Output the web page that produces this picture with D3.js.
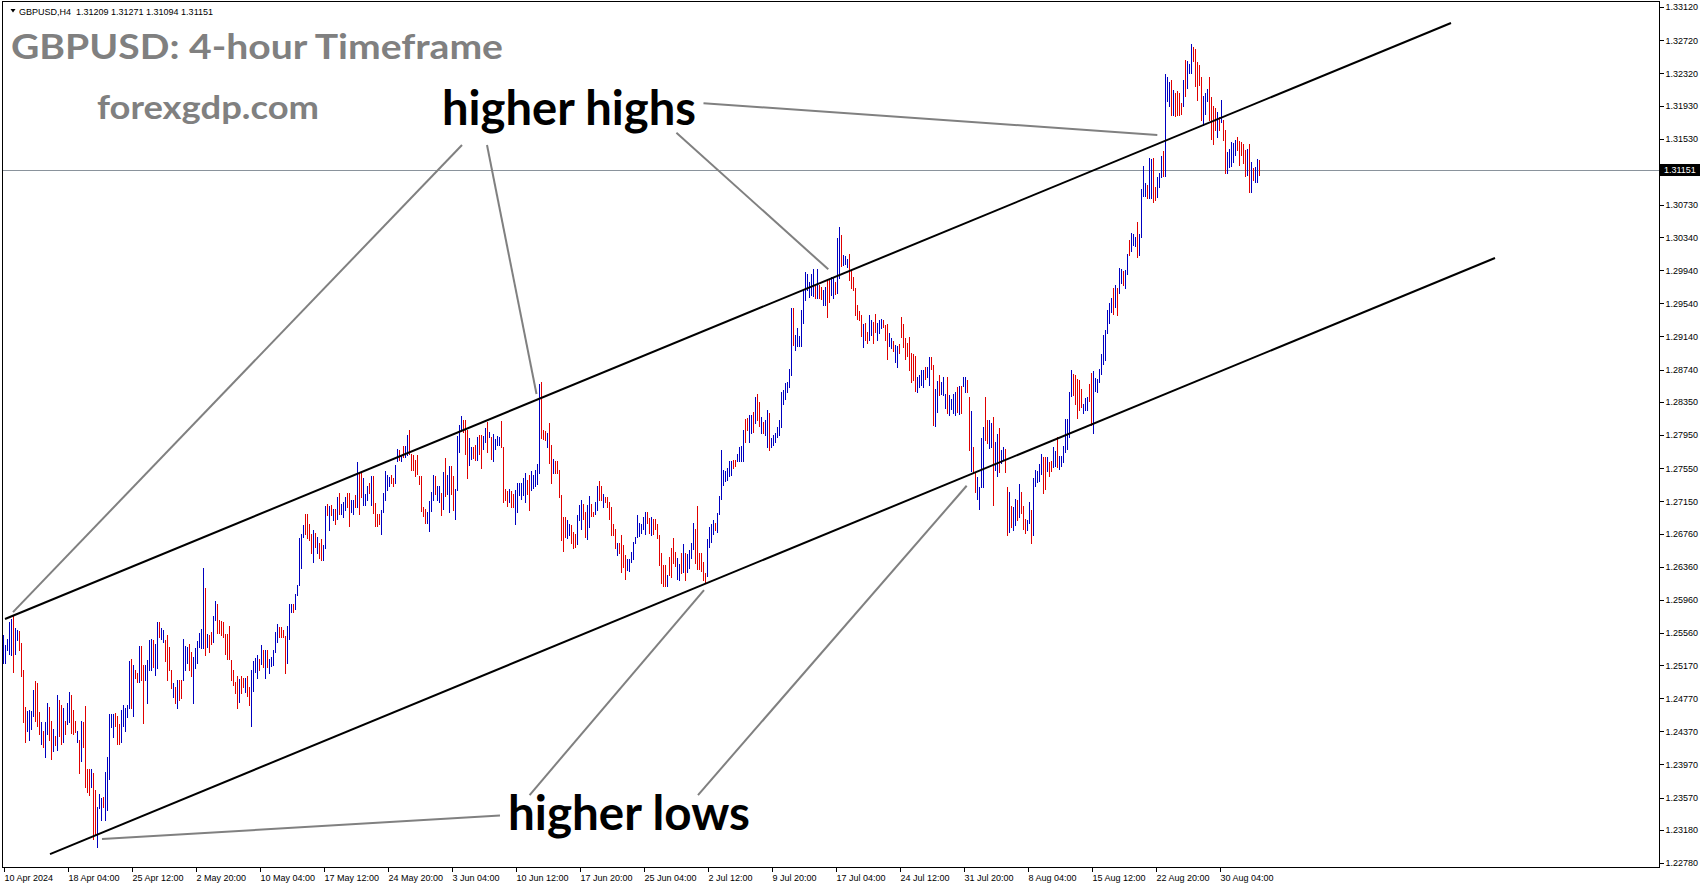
<!DOCTYPE html>
<html><head><meta charset="utf-8">
<script src="https://cdn.jsdelivr.net/npm/d3@7"></script>
<style>html,body{margin:0;padding:0;background:#fff;overflow:hidden}</style>
</head><body>
<svg id="chart" width="1705" height="888"></svg>
<script>
// ---------- DATA ----------
const symbolInfo = "GBPUSD,H4  1.31209 1.31271 1.31094 1.31151";
const titleText = "GBPUSD: 4-hour Timeframe";
const siteText = "forexgdp.com";
const highsLabel = "higher highs";
const lowsLabel = "higher lows";
const lastPrice = 1.31151;

const highs = [
1.2553,1.2541,1.2548,1.2569,1.2573,1.2577,1.2562,1.2559,1.2558,1.2544,
1.2511,1.2467,1.2462,1.2463,1.2462,1.2487,1.2498,1.2495,1.2461,1.2448,
1.2438,1.2448,1.2471,1.2467,1.2450,1.2440,1.2432,1.2481,1.2475,1.2469,
1.2465,1.2450,1.2471,1.2484,1.2481,1.2463,1.2450,1.2437,1.2427,1.2450,
1.2448,1.2468,1.2392,1.2392,1.2391,1.2387,1.2366,1.2346,1.2361,1.2356,
1.2358,1.2388,1.2406,1.2458,1.2458,1.2458,1.2459,1.2456,1.2446,1.2463,
1.2469,1.2465,1.2469,1.2522,1.2525,1.2517,1.2511,1.2507,1.2540,1.2540,
1.2517,1.2517,1.2523,1.2547,1.2548,1.2547,1.2543,1.2569,1.2569,1.2562,
1.2559,1.2547,1.2554,1.2539,1.2511,1.2495,1.2491,1.2499,1.2499,1.2499,
1.2549,1.2540,1.2539,1.2543,1.2533,1.2527,1.2538,1.2546,1.2556,1.2561,
1.2634,1.2610,1.2555,1.2553,1.2557,1.2576,1.2594,1.2591,1.2571,1.2570,
1.2569,1.2555,1.2555,1.2564,1.2523,1.2511,1.2497,1.2504,1.2500,1.2504,
1.2501,1.2501,1.2504,1.2491,1.2511,
1.2522,1.2526,1.2529,1.2525,1.2541,1.2535,1.2535,1.2535,1.2525,1.2527,
1.2535,1.2557,1.2567,1.2563,1.2563,1.2560,1.2552,1.2564,1.2591,1.2591,
1.2591,1.2603,1.2614,1.2670,1.2676,1.2686,1.2700,1.2700,1.2688,1.2676,
1.2680,1.2677,1.2672,1.2664,1.2669,1.2662,1.2709,1.2712,1.2709,1.2710,
1.2706,1.2706,1.2720,1.2725,1.2712,1.2714,1.2720,1.2725,1.2725,1.2716,
1.2717,1.2722,1.2762,1.2749,1.2749,1.2743,1.2724,1.2733,1.2737,1.2745,
1.2745,1.2713,1.2700,1.2700,1.2705,1.2725,1.2751,1.2747,1.2744,1.2747,
1.2743,1.2759,1.2778,1.2777,1.2771,1.2782,1.2782,1.2795,1.2801,1.2772,
1.2771,1.2765,1.2771,1.2745,1.2745,1.2708,1.2706,1.2702,1.2715,1.2726,
1.2747,1.2745,1.2733,1.2733,1.2725,1.2750,1.2767,1.2747,1.2757,1.2757,
1.2745,1.2730,1.2794,1.2807,1.2818,1.2813,1.2813,1.2801,1.2791,1.2780,
1.2780,1.2783,1.2792,1.2795,1.2795,1.2794,1.2803,1.2811,1.2799,1.2792,
1.2796,1.2790,1.2794,1.2792,
1.2812,1.2780,1.2730,1.2727,1.2730,1.2727,1.2724,1.2729,1.2737,1.2737,
1.2737,1.2743,1.2749,1.2741,1.2747,1.2752,1.2747,1.2753,1.2760,1.2857,
1.2859,1.2801,1.2800,1.2798,1.2809,1.2783,1.2766,1.2763,1.2763,1.2753,
1.2722,1.2696,1.2696,1.2692,1.2688,1.2686,1.2678,1.2676,1.2698,1.2710,
1.2716,1.2712,1.2702,1.2710,1.2721,1.2712,1.2702,1.2714,1.2733,1.2739,
1.2733,1.2724,1.2720,1.2720,1.2714,1.2708,1.2687,1.2682,1.2665,1.2664,
1.2674,1.2662,1.2650,1.2645,1.2645,1.2654,1.2666,1.2672,1.2698,1.2689,
1.2688,1.2696,1.2702,1.2702,1.2695,1.2696,1.2694,1.2693,1.2688,1.2674,
1.2652,1.2638,1.2638,1.2626,1.2648,1.2659,1.2670,1.2654,1.2646,1.2639,
1.2652,1.2663,1.2652,1.2651,1.2656,1.2665,1.2689,1.2681,1.2709,1.2652,
1.2653,1.2641,1.2628,1.2669,1.2684,1.2687,1.2692,1.2689,1.2701,1.2721,
1.2777,1.2753,1.2751,1.2755,1.2763,1.2764,1.2765,1.2765,1.2772,1.2780,
1.2782,1.2801,1.2814,1.2815,1.2819,1.2819,1.2823,1.2841,1.2845,1.2835,
1.2817,1.2811,1.2813,1.2825,1.2822,1.2791,1.2795,1.2797,1.2805,1.2813,
1.2847,1.2849,1.2858,1.2859,1.2875,1.2949,1.2949,1.2916,1.2924,1.2914,
1.2946,1.2970,1.2992,1.2990,1.2980,1.2990,1.2995,1.2975,1.2995,1.2976,
1.2974,1.2970,1.2974,1.2983,1.2984,1.2986,1.2985,1.2980,1.3033,1.3046,
1.3037,1.3012,1.3011,1.3007,1.3014,1.2994,1.2986,1.2972,1.2952,1.2945,
1.2940,1.2929,1.2930,1.2920,1.2940,1.2934,1.2932,1.2941,1.2930,1.2934,
1.2935,1.2934,1.2928,1.2929,1.2918,1.2912,1.2909,1.2904,1.2902,1.2905,
1.2937,1.2929,1.2912,1.2906,1.2913,1.2894,1.2893,1.2890,1.2865,1.2867,
1.2874,1.2874,1.2877,1.2877,1.2889,1.2889,1.2879,1.2851,1.2860,1.2867,
1.2859,1.2865,1.2845,1.2865,1.2843,1.2839,1.2845,1.2847,1.2853,1.2854,
1.2854,1.2865,1.2865,1.2861,1.2841,1.2824,1.2781,1.2750,1.2744,1.2732,
1.2791,1.2805,1.2841,1.2813,1.2813,1.2809,1.2817,1.2787,1.2796,1.2803,
1.2777,1.2781,1.2778,1.2732,1.2726,
1.2709,1.2708,1.2718,1.2717,1.2736,1.2726,1.2709,1.2694,1.2692,1.2714,
1.2704,1.2743,1.2753,1.2751,1.2760,1.2772,1.2769,1.2769,1.2768,1.2762,
1.2764,1.2781,1.2776,1.2793,1.2770,1.2770,1.2782,1.2814,1.2814,1.2847,
1.2873,1.2869,1.2868,1.2863,1.2861,1.2850,1.2833,1.2840,1.2841,1.2857,
1.2870,1.2872,1.2864,1.2863,1.2875,1.2893,1.2916,1.2922,1.2946,1.2954,
1.2961,1.2972,1.2976,1.2973,1.2997,1.2996,1.2993,1.2994,1.3014,1.3030,
1.3039,1.3038,1.3034,1.3052,1.3038,1.3092,1.3120,1.3099,1.3097,1.3129,
1.3128,1.3129,1.3095,1.3107,1.3111,1.3132,1.3138,1.3231,1.3228,1.3222,
1.3224,1.3212,1.3208,1.3210,1.3208,1.3196,1.3224,1.3248,1.3247,1.3243,
1.3267,1.3264,1.3261,1.3246,1.3242,1.3228,1.3204,1.3208,1.3213,1.3227,
1.3203,1.3192,1.3190,1.3185,1.3179,1.3200,1.3176,1.3164,1.3137,1.3141,
1.3149,1.3148,1.3151,1.3155,1.3150,1.3149,1.3146,1.3139,1.3141,1.3147,
1.3125,1.3117,1.3119,1.3128,1.3127
];

const lows = [
1.2520,1.2519,1.2535,1.2531,1.2529,1.2509,1.2531,1.2547,1.2535,1.2504,
1.2448,1.2424,1.2438,1.2427,1.2440,1.2456,1.2450,1.2443,1.2434,1.2422,
1.2418,1.2406,1.2434,1.2426,1.2404,1.2413,1.2420,1.2415,1.2432,1.2422,
1.2424,1.2434,1.2446,1.2448,1.2435,1.2434,1.2436,1.2424,1.2387,1.2401,
1.2418,1.2370,1.2364,1.2360,1.2370,1.2307,1.2313,1.2297,1.2344,1.2330,
1.2346,1.2330,1.2342,1.2380,1.2442,1.2430,1.2444,1.2422,1.2422,1.2424,
1.2444,1.2437,1.2454,1.2465,1.2465,1.2456,1.2501,1.2497,1.2497,1.2499,
1.2447,1.2499,1.2471,1.2511,1.2511,1.2515,1.2505,1.2513,1.2551,1.2549,
1.2545,1.2522,1.2499,1.2511,1.2489,1.2479,1.2471,1.2465,1.2475,1.2477,
1.2499,1.2511,1.2520,1.2511,1.2504,1.2471,1.2513,1.2520,1.2539,1.2538,
1.2538,1.2529,1.2539,1.2533,1.2542,1.2545,1.2571,1.2556,1.2556,1.2553,
1.2551,1.2531,1.2525,1.2525,1.2499,1.2493,1.2483,1.2465,1.2473,1.2483,
1.2491,1.2485,1.2480,1.2469,1.2444,
1.2486,1.2509,1.2501,1.2511,1.2518,1.2515,1.2501,1.2515,1.2507,1.2516,
1.2517,1.2533,1.2545,1.2551,1.2551,1.2551,1.2508,1.2519,1.2548,1.2581,
1.2581,1.2585,1.2602,1.2614,1.2634,1.2672,1.2676,1.2670,1.2668,1.2652,
1.2642,1.2660,1.2652,1.2647,1.2644,1.2644,1.2659,1.2698,1.2680,1.2698,
1.2692,1.2688,1.2694,1.2700,1.2700,1.2696,1.2704,1.2708,1.2685,1.2702,
1.2700,1.2708,1.2708,1.2700,1.2720,1.2710,1.2710,1.2716,1.2725,1.2710,
1.2701,1.2685,1.2685,1.2687,1.2675,1.2702,1.2716,1.2729,1.2733,1.2737,
1.2733,1.2737,1.2763,1.2765,1.2763,1.2769,1.2768,1.2771,1.2772,1.2753,
1.2753,1.2746,1.2748,1.2736,1.2703,1.2697,1.2689,1.2689,1.2679,1.2703,
1.2716,1.2724,1.2716,1.2714,1.2698,1.2706,1.2721,1.2724,1.2702,1.2724,
1.2705,1.2694,1.2729,1.2775,1.2801,1.2799,1.2772,1.2743,1.2759,1.2766,
1.2767,1.2765,1.2765,1.2772,1.2755,1.2778,1.2787,1.2775,1.2792,1.2766,
1.2763,1.2778,1.2783,1.2783,
1.2781,1.2714,1.2717,1.2709,1.2714,1.2708,1.2708,1.2687,1.2702,1.2722,
1.2718,1.2722,1.2714,1.2724,1.2705,1.2728,1.2731,1.2733,1.2736,1.2749,
1.2791,1.2790,1.2789,1.2780,1.2761,1.2737,1.2749,1.2749,1.2749,1.2720,
1.2668,1.2655,1.2672,1.2671,1.2674,1.2665,1.2658,1.2660,1.2663,1.2692,
1.2682,1.2693,1.2672,1.2669,1.2684,1.2697,1.2697,1.2700,1.2704,1.2716,
1.2716,1.2708,1.2714,1.2708,1.2694,1.2674,1.2674,1.2658,1.2650,1.2652,
1.2630,1.2636,1.2621,1.2632,1.2631,1.2642,1.2645,1.2664,1.2672,1.2673,
1.2677,1.2681,1.2676,1.2689,1.2677,1.2674,1.2676,1.2682,1.2670,1.2638,
1.2616,1.2613,1.2612,1.2613,1.2626,1.2624,1.2640,1.2637,1.2621,1.2620,
1.2628,1.2629,1.2620,1.2629,1.2634,1.2647,1.2657,1.2640,1.2633,1.2633,
1.2631,1.2620,1.2617,1.2625,1.2660,1.2666,1.2676,1.2680,1.2678,1.2700,
1.2718,1.2735,1.2740,1.2741,1.2745,1.2747,1.2755,1.2758,1.2763,1.2764,
1.2763,1.2764,1.2787,1.2801,1.2787,1.2798,1.2799,1.2809,1.2813,1.2806,
1.2797,1.2797,1.2795,1.2781,1.2777,1.2780,1.2783,1.2787,1.2793,1.2795,
1.2805,1.2833,1.2839,1.2847,1.2853,1.2867,1.2904,1.2898,1.2902,1.2902,
1.2902,1.2930,1.2958,1.2970,1.2962,1.2964,1.2963,1.2961,1.2960,1.2960,
1.2959,1.2952,1.2952,1.2938,1.2956,1.2964,1.2961,1.2965,1.2966,1.2985,
1.2999,1.3000,1.3002,1.2998,1.2982,1.2972,1.2970,1.2940,1.2935,1.2934,
1.2914,1.2901,1.2910,1.2906,1.2910,1.2916,1.2906,1.2920,1.2910,1.2918,
1.2924,1.2926,1.2910,1.2887,1.2902,1.2900,1.2897,1.2883,1.2877,1.2894,
1.2913,1.2901,1.2887,1.2891,1.2873,1.2859,1.2861,1.2848,1.2847,1.2853,
1.2855,1.2853,1.2863,1.2865,1.2855,1.2875,1.2807,1.2806,1.2823,1.2843,
1.2845,1.2843,1.2828,1.2821,1.2819,1.2827,1.2821,1.2819,1.2823,1.2820,
1.2822,1.2854,1.2847,1.2847,1.2777,1.2752,1.2749,1.2726,1.2718,1.2706,
1.2732,1.2732,1.2789,1.2785,1.2779,1.2781,1.2710,1.2753,1.2745,1.2750,
1.2761,1.2765,1.2750,1.2674,1.2678,
1.2684,1.2680,1.2686,1.2692,1.2696,1.2701,1.2682,1.2677,1.2680,1.2689,
1.2664,1.2674,1.2733,1.2738,1.2740,1.2748,1.2725,1.2730,1.2752,1.2745,
1.2752,1.2756,1.2758,1.2756,1.2754,1.2757,1.2762,1.2774,1.2778,1.2793,
1.2842,1.2843,1.2833,1.2815,1.2825,1.2829,1.2821,1.2825,1.2825,1.2836,
1.2807,1.2798,1.2848,1.2847,1.2859,1.2869,1.2881,1.2885,1.2918,1.2930,
1.2944,1.2941,1.2950,1.2940,1.2966,1.2979,1.2976,1.2973,1.2990,1.3012,
1.3017,1.3024,1.3023,1.3010,1.3012,1.3034,1.3084,1.3084,1.3081,1.3081,
1.3081,1.3077,1.3079,1.3083,1.3095,1.3107,1.3108,1.3108,1.3199,1.3192,
1.3181,1.3181,1.3180,1.3181,1.3181,1.3183,1.3192,1.3204,1.3214,1.3232,
1.3232,1.3247,1.3216,1.3200,1.3218,1.3175,1.3169,1.3183,1.3198,1.3175,
1.3153,1.3146,1.3163,1.3155,1.3163,1.3173,1.3151,1.3111,1.3112,1.3119,
1.3120,1.3125,1.3133,1.3139,1.3121,1.3133,1.3123,1.3108,1.3109,1.3089,
1.3088,1.3103,1.3101,1.3101,1.3109
];

// u = up bar (blue), d = down bar (red)
const barDir = (
"uuuuuduudd" + "dduuuudddu" + "duuddududd" + "uduudddudu" + "ddddudduuu" +
"duuuuudddu" + "uuuududdud" + "duuuuduudu" + "uddddududd" + "uuudduuuuu" +
"ududduuddd" + "ddddddddud" + "duddu" +
"uuudududuu" + "uuudddduuu" + "duuuuudddd" + "ududduudud" + "ududuuuddu" +
"ududduuudu" + "dddduuuuud" + "duududuudd" + "ddddddduuu" + "uduududuud" +
"duuuuddduu" + "ddudduudud" + "uuuu" +
"ddddudduuu" + "uuudduuuuu" + "dddudduddd" + "ddduuddduu" + "udduudduud" +
"duddddddud" + "ddduuuuuuu" + "uuuddudddd" + "dddudddduu" + "duduuuuddd" +
"ddduuuuduu" + "uuuuuudduu" + "uudduududd" +
"uduuduuuuu" + "uuuuuuduuu" + "uuuuuuudud" + "duudduuduu" + "duuudddddd" +
"dudduudduu" + "uddduuduud" + "dddddddduu" + "uuduudduud" + "uuuduuuudu" +
"duuddudduu" + "uudduuduud" + "uuddu" +
"duududdduu" + "duuuuuddud" + "duuduuuuuu" + "uddddduuud" + "duuuuuuuuu" +
"ududuuduud" + "uuuduuuudu" + "udduuuduuu" + "dudddduduu" + "uddddduuud" +
"dddududduu" + "uuudddddud" + "uduud"
).split("");

const xTickIndex = [0,32,64,96,128,160,192,224,256,288,320,352,384,416,448,480,512,544,576,608];
const xTickLabels = ["10 Apr 2024","18 Apr 04:00","25 Apr 12:00","2 May 20:00","10 May 04:00",
  "17 May 12:00","24 May 20:00","3 Jun 04:00","10 Jun 12:00","17 Jun 20:00","25 Jun 04:00",
  "2 Jul 12:00","9 Jul 20:00","17 Jul 04:00","24 Jul 12:00","31 Jul 20:00","8 Aug 04:00",
  "15 Aug 12:00","22 Aug 20:00","30 Aug 04:00"];
const yTickValues = [1.3312,1.3272,1.3232,1.3193,1.3153,1.3073,1.3034,1.2994,1.2954,1.2914,
  1.2874,1.2835,1.2795,1.2755,1.2715,1.2676,1.2636,1.2596,1.2556,1.2517,1.2477,1.2437,
  1.2397,1.2357,1.2318,1.2278];

// channel lines: [barIndex, price]
const upperChannel = [[1, 1.25727], [724, 1.32927]];
const lowerChannel = [[23.5, 1.22888], [746, 1.30088]];
// annotation pointer lines: [barIndex, price] pairs
const highsPointers = [
  [[229.5, 1.31453], [5, 1.25811]],
  [[242, 1.31453], [266.75, 1.28445]],
  [[336.7, 1.31602], [412.65, 1.29951]],
  [[350.25, 1.31957], [577.15, 1.31574]]
];
const lowsPointers = [
  [[248.5, 1.23353], [49.5, 1.23069]],
  [[263.3, 1.23601], [350.5, 1.26077]],
  [[347.5, 1.23601], [481.85, 1.27337]]
];

// ---------- DRAW ----------
const svg = d3.select("#chart");
const plotL = 2, plotT = 1, plotR = 1659, plotB = 867;
const n = highs.length;
const x = d3.scaleLinear().domain([0, n - 1]).range([3, 3 + 2 * (n - 1)]);
const y = d3.scaleLinear().domain([1.2278, 1.3312]).range([863, 7]);
const axisFont = "'Liberation Sans', Arial, sans-serif";

svg.append("rect").attr("width", 1705).attr("height", 888).attr("fill", "#fff");

svg.append("defs").append("clipPath").attr("id", "plotclip")
  .append("rect").attr("x", plotL).attr("y", plotT).attr("width", plotR - plotL).attr("height", plotB - plotT);

const plot = svg.append("g").attr("clip-path", "url(#plotclip)");

// current price line
plot.append("line")
  .attr("x1", plotL).attr("x2", plotR)
  .attr("y1", Math.round(y(lastPrice)) + 0.5).attr("y2", Math.round(y(lastPrice)) + 0.5)
  .attr("stroke", "#8a939c").attr("stroke-width", 1);

// bars
plot.append("g").selectAll("line").data(d3.range(n)).join("line")
  .attr("x1", i => x(i) + 0.5).attr("x2", i => x(i) + 0.5)
  .attr("y1", i => y(highs[i])).attr("y2", i => y(lows[i]) + 1)
  .attr("stroke", i => barDir[i] === "u" ? "#0000c0" : "#e00000")
  .attr("stroke-width", 1)
  .attr("shape-rendering", "crispEdges");

// channel lines
const lineGen = d3.line().x(d => x(d[0])).y(d => y(d[1]));
[upperChannel, lowerChannel].forEach(c => {
  plot.append("path").attr("d", lineGen(c)).attr("stroke", "#000").attr("stroke-width", 2).attr("fill", "none");
});
// pointers
[...highsPointers, ...lowsPointers].forEach(p => {
  plot.append("path").attr("d", lineGen(p)).attr("stroke", "#808080").attr("stroke-width", 2).attr("fill", "none");
});

// frame
svg.append("rect").attr("x", plotL + 0.5).attr("y", plotT + 0.5)
  .attr("width", plotR - plotL).attr("height", plotB - plotT)
  .attr("fill", "none").attr("stroke", "#000").attr("stroke-width", 1).attr("shape-rendering", "crispEdges");

// right axis
const yAxis = svg.append("g").attr("transform", `translate(${plotR + 0.5},0)`)
  .call(d3.axisRight(y).tickValues(yTickValues).tickSize(4).tickPadding(2).tickFormat(d3.format(".5f")));
yAxis.select(".domain").remove();
yAxis.selectAll("text").attr("font-family", axisFont).attr("font-size", 9).attr("fill", "#000");
yAxis.selectAll("line").attr("stroke", "#000").attr("shape-rendering", "crispEdges");

// current price tag
const py = y(lastPrice);
svg.append("rect").attr("x", plotR + 1).attr("y", py - 6).attr("width", 40).attr("height", 12).attr("fill", "#000");
svg.append("text").attr("x", plotR + 5).attr("y", py).attr("dy", "0.33em")
  .attr("font-family", axisFont).attr("font-size", 9).attr("fill", "#fff").text(d3.format(".5f")(lastPrice));

// bottom axis
const xAxis = svg.append("g").attr("transform", `translate(0,${plotB + 0.5})`)
  .call(d3.axisBottom(x).tickValues(xTickIndex).tickSize(4).tickPadding(3).tickFormat((d, i) => xTickLabels[i]));
xAxis.select(".domain").remove();
xAxis.selectAll("line").attr("stroke", "#000").attr("transform", "translate(0.5,0)").attr("shape-rendering", "crispEdges");
xAxis.selectAll("text").attr("text-anchor", "start").attr("dx", 1)
  .attr("font-family", axisFont).attr("font-size", 9).attr("fill", "#000");

// header
svg.append("path").attr("d", "M10.5,9 L15.5,9 L13,12.5 Z").attr("fill", "#000");
svg.append("text").attr("x", 19).attr("y", 14.5).attr("font-family", axisFont).attr("font-size", 9)
  .attr("fill", "#000").attr("xml:space", "preserve").style("white-space", "pre").text(symbolInfo);

// big texts
const bigFont = "Lato, 'Open Sans', sans-serif";
svg.append("text").attr("x", 11).attr("y", 58.5).attr("font-family", bigFont).attr("font-weight", 700)
  .attr("font-size", 35).attr("fill", "#808080").attr("textLength", 492).attr("lengthAdjust", "spacingAndGlyphs").text(titleText);
svg.append("text").attr("x", 97).attr("y", 119).attr("font-family", bigFont).attr("font-weight", 700)
  .attr("font-size", 32).attr("fill", "#808080").attr("textLength", 222).attr("lengthAdjust", "spacingAndGlyphs").text(siteText);
svg.append("text").attr("x", 442).attr("y", 125).attr("font-family", bigFont).attr("font-weight", 700)
  .attr("font-size", 47).attr("fill", "#000").attr("textLength", 254).attr("lengthAdjust", "spacingAndGlyphs").text(highsLabel);
svg.append("text").attr("x", 508).attr("y", 830).attr("font-family", bigFont).attr("font-weight", 700)
  .attr("font-size", 47).attr("fill", "#000").attr("textLength", 242).attr("lengthAdjust", "spacingAndGlyphs").text(lowsLabel);
</script>
</body></html>
